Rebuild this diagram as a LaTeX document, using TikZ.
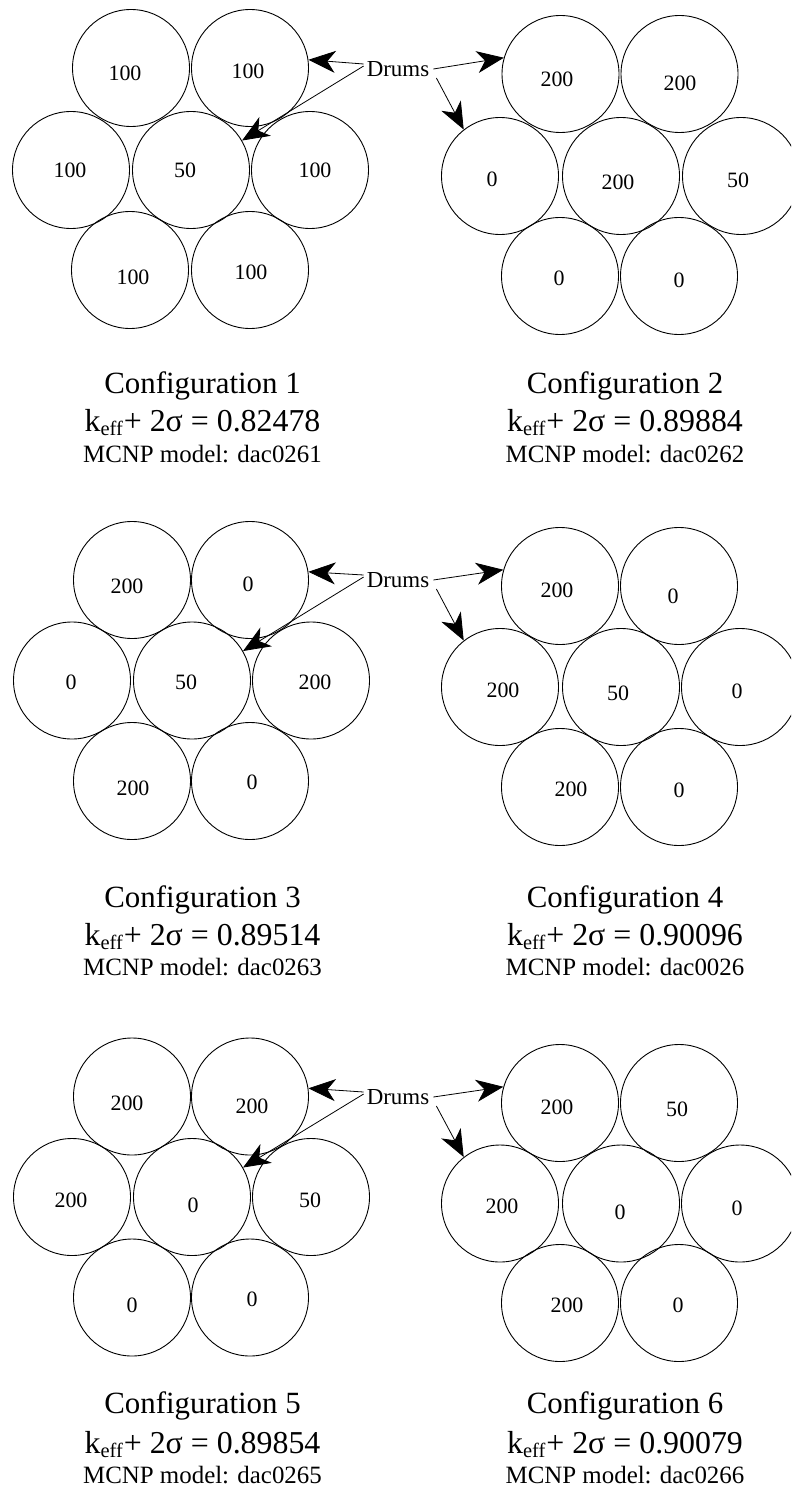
\documentclass[tikz,border=0pt]{standalone}
\usepackage{fontspec}
\setmainfont{Liberation Serif}
\usetikzlibrary{arrows.meta,calc}
\newcommand{\dr}[6]{\node[drum] (#1) at (#2,#3) {}; \node[num] (#1t) at (#4,#5) {#6};}
\newcommand{\subeff}{{\fontsize{20.5}{20.5}\selectfont\raisebox{-4bp}{eff}}\kern1bp}
\begin{document}
\begin{tikzpicture}[x=1bp,y=-1bp,
  drum/.style={circle,draw,line width=0.9bp,minimum size=117bp,inner sep=0pt},
  num/.style={font=\fontsize{22}{22}\selectfont,inner sep=0pt},
  lbl/.style={font=\fontsize{23}{23}\selectfont,inner sep=0pt},
  ptr/.style={line width=0.8bp,-{Stealth[length=27bp,width=22bp,inset=8bp]}},
  capA/.style={font=\fontsize{31}{31}\selectfont,anchor=base,inner sep=0pt},
  capK/.style={font=\fontsize{32}{32}\selectfont,anchor=base,inner sep=0pt},
  capB/.style={font=\fontsize{25}{25}\selectfont,anchor=base,inner sep=0pt}]
\clip (0,0) rectangle (791,1490);
\fill[white] (0,0) rectangle (791,1490);
% ---------- Configuration 1
\dr{c1a}{131}{68}{125}{73}{100}
\dr{c1b}{250}{68}{248}{71}{100}
\dr{c1c}{71}{170}{70}{170}{100}
\dr{c1d}{191}{170}{185}{170}{50}
\dr{c1e}{310}{170}{315}{170}{100}
\dr{c1f}{130}{270}{133}{277}{100}
\dr{c1g}{250}{270}{251}{272}{100}
% ---------- Configuration 2
\dr{c2a}{560.5}{74}{557}{79}{200}
\dr{c2b}{679.5}{74}{680}{83}{200}
\dr{c2c}{500}{176}{492}{179}{0}
\dr{c2d}{621}{176}{618}{182}{200}
\dr{c2e}{741}{176}{738}{180}{50}
\dr{c2f}{560}{276}{559}{278}{0}
\dr{c2g}{679}{276}{679}{280}{0}
% ---------- Configuration 3
\dr{c3a}{132}{580}{127}{586}{200}
\dr{c3b}{250}{580}{248}{584}{0}
\dr{c3c}{72}{680.5}{71}{682}{0}
\dr{c3d}{192}{680.5}{186}{682}{50}
\dr{c3e}{311}{680.5}{315}{682}{200}
\dr{c3f}{132}{781}{133}{788}{200}
\dr{c3g}{250}{781}{252}{782}{0}
% ---------- Configuration 4
\dr{c4a}{560}{586}{557}{590}{200}
\dr{c4b}{679}{586}{673}{596}{0}
\dr{c4c}{500}{687}{503}{690}{200}
\dr{c4d}{621}{687}{618}{693}{50}
\dr{c4e}{740}{687}{737}{691}{0}
\dr{c4f}{560}{787}{571}{789}{200}
\dr{c4g}{679}{787}{679}{790}{0}
% ---------- Configuration 5
\dr{c5a}{132}{1096.5}{127}{1103}{200}
\dr{c5b}{250}{1096.5}{252}{1106}{200}
\dr{c5c}{72}{1197}{71}{1200}{200}
\dr{c5d}{192}{1197}{193}{1205}{0}
\dr{c5e}{311}{1197}{310}{1200}{50}
\dr{c5f}{132}{1297.5}{132}{1305}{0}
\dr{c5g}{250}{1297.5}{252}{1299}{0}
% ---------- Configuration 6
\dr{c6a}{560}{1103}{557}{1107}{200}
\dr{c6b}{679}{1103}{677}{1109}{50}
\dr{c6c}{500}{1203.5}{502}{1206}{200}
\dr{c6d}{621}{1203.5}{620}{1212}{0}
\dr{c6e}{740}{1203.5}{737}{1208}{0}
\dr{c6f}{560}{1303}{567}{1305}{200}
\dr{c6g}{679}{1303}{678}{1305}{0}
% ---------- Drums labels and pointers
\node[lbl] (d1) at (398,69) {Drums};
\node[lbl] (d2) at (398,580) {Drums};
\node[lbl] (d3) at (398,1097) {Drums};
\foreach \d/\l/\r in {d1/1/2,d2/3/4,d3/5/6}{
  \draw[ptr] ($(\d.west)+(-3,-5)$) -- (c\l b.8);
  \draw[ptr] ($(\d.west)+(-3,-3)$) -- (c\l d.30);
  \draw[ptr] ($(\d.east)+(4,0)$) -- (c\r a.164);
  \draw[ptr] ($(\d.east)+(7,9)$) -- (c\r c.128);
}
% ---------- Captions
\node[capA] (t1) at (202.5,393) {Configuration 1};
\node[capK] (k1) at (202.5,431) {k\subeff+ 2σ = 0.82478};
\node[capB] (m1) at (202.5,462) {MCNP model: dac0261};
\node[capA] (t2) at (625,393) {Configuration 2};
\node[capK] (k2) at (625,431) {k\subeff+ 2σ = 0.89884};
\node[capB] (m2) at (625,462) {MCNP model: dac0262};
\node[capA] (t3) at (202.5,907) {Configuration 3};
\node[capK] (k3) at (202.5,945) {k\subeff+ 2σ = 0.89514};
\node[capB] (m3) at (202.5,975) {MCNP model: dac0263};
\node[capA] (t4) at (625,907) {Configuration 4};
\node[capK] (k4) at (625,945) {k\subeff+ 2σ = 0.90096};
\node[capB] (m4) at (625,975) {MCNP model: dac0026};
\node[capA] (t5) at (202.5,1413) {Configuration 5};
\node[capK] (k5) at (202.5,1453) {k\subeff+ 2σ = 0.89854};
\node[capB] (m5) at (202.5,1483) {MCNP model: dac0265};
\node[capA] (t6) at (625,1413) {Configuration 6};
\node[capK] (k6) at (625,1453) {k\subeff+ 2σ = 0.90079};
\node[capB] (m6) at (625,1483) {MCNP model: dac0266};
\end{tikzpicture}
\end{document}
